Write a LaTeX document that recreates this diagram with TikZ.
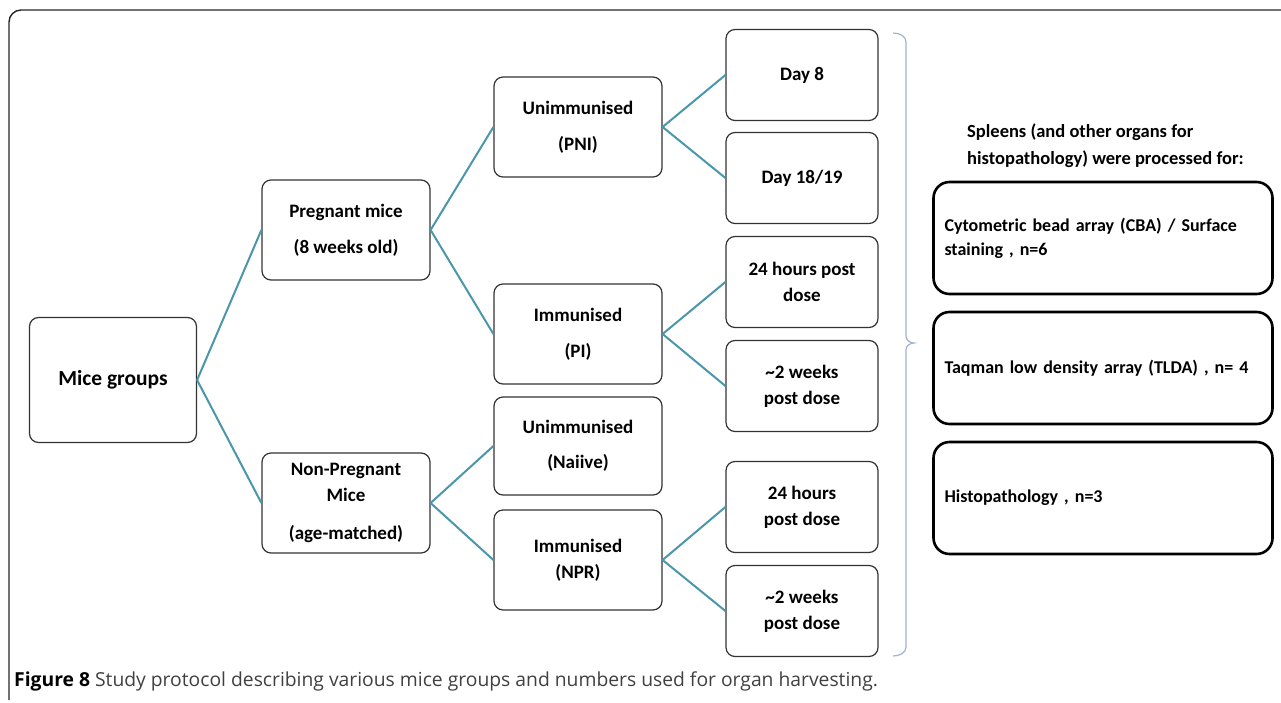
\documentclass[tikz,border=0pt]{standalone}
\usepackage{fontspec}
\setmainfont{Carlito}
\newfontfamily\capfont{Open Sans}
\usetikzlibrary{positioning}
\definecolor{linkteal}{RGB}{74,150,170}
\definecolor{bracegray}{RGB}{160,180,205}
\begin{document}
\begin{tikzpicture}[x=1pt, y=-1pt,
    box/.style={draw=black!80, line width=1.2pt, rounded corners=9pt, align=center,
        minimum width=168pt, minimum height=100pt, inner sep=2pt,
        font=\fontsize{19}{26}\selectfont\bfseries},
    tbox/.style={box, minimum width=152pt, minimum height=91pt},
    rbox/.style={draw=black, line width=2.6pt, rounded corners=16pt, align=left,
        minimum width=339pt, minimum height=112pt, text width=317pt, inner sep=11pt,
        font=\fontsize{18}{24}\selectfont\bfseries},
    link/.style={draw=linkteal, line width=2pt}]
    \useasboundingbox (0,0) rectangle (1281,703);

    % Frame
    \draw[line width=1.4pt, black!85, rounded corners=12pt] (9,700) -- (9,10) -- (1290,10);

    % Mice groups
    \node[box, minimum width=167pt, minimum height=125pt, font=\fontsize{21.5}{26}\selectfont\bfseries] (mg) at (113,380) {Mice groups};
    \node[box] (pm) at (346,230) {Pregnant mice\\[10pt](8 weeks old)};
    \node[box] (np) at (346,503) {Non-Pregnant\\Mice\\[12pt](age-matched)};

    % Second level
    \node[box] (pni) at (578,127) {Unimmunised\\[10pt](PNI)};
    \node[box] (pi) at (578,334) {Immunised\\[10pt](PI)};
    \node[box, minimum height=98pt] (nai) at (578,446) {Unimmunised\\[9pt](Naiive)};
    \node[box] (npr) at (578,560) {Immunised\\(NPR)};

    % Time points
    \node[tbox] (d8) at (802,75) {Day 8};
    \node[tbox] (d18) at (802,178) {Day 18/19};
    \node[tbox] (h24a) at (802,282) {24 hours post\\dose};
    \node[tbox] (w2a) at (802,386) {\textasciitilde2 weeks\\post dose};
    \node[tbox] (h24b) at (802,507) {24 hours\\post dose};
    \node[tbox] (w2b) at (802,611) {\textasciitilde2 weeks\\post dose};

    % Links
    \draw[link] (mg.east) -- (pm.west);
    \draw[link] (mg.east) -- (np.west);
    \draw[link] (pm.east) -- (pni.west);
    \draw[link] (pm.east) -- (pi.west);
    \draw[link] (np.east) -- (nai.west);
    \draw[link] (np.east) -- (npr.west);
    \draw[link] (pni.east) -- (d8.west);
    \draw[link] (pni.east) -- (d18.west);
    \draw[link] (pi.east) -- (h24a.west);
    \draw[link] (pi.east) -- (w2a.west);
    \draw[link] (npr.east) -- (h24b.west);
    \draw[link] (npr.east) -- (w2b.west);

    % Brace
    \draw[bracegray, line width=1.2pt] (893,33) to[out=0,in=90] (906,42) -- (906,336)
        to[out=-90,in=180] (914,343) to[out=180,in=90] (906,350) -- (906,647) to[out=-90,in=0] (893,656);

    % Right side
    \node[anchor=north west, align=left, font=\fontsize{18.5}{27}\selectfont\bfseries, inner sep=0pt] (hdr) at (967,124)
        {Spleens (and other organs for\\histopathology) were processed for:};
    \node[rbox] (cba) at (1103,238) {Cytometric bead array (CBA) / Surface\\staining , n=6};
    \node[rbox] (tlda) at (1103,368) {Taqman low density array (TLDA) , n= 4};
    \node[rbox] (his) at (1103,498) {Histopathology , n=3};

    % Caption
    \node[anchor=west, inner sep=0pt, font=\capfont\fontsize{19.3}{22}\selectfont, text=black!75] (cap) at (14,681)
        {{\bfseries\color{black}Figure 8} Study protocol describing various mice groups and numbers used for organ harvesting.};
\end{tikzpicture}
\end{document}
